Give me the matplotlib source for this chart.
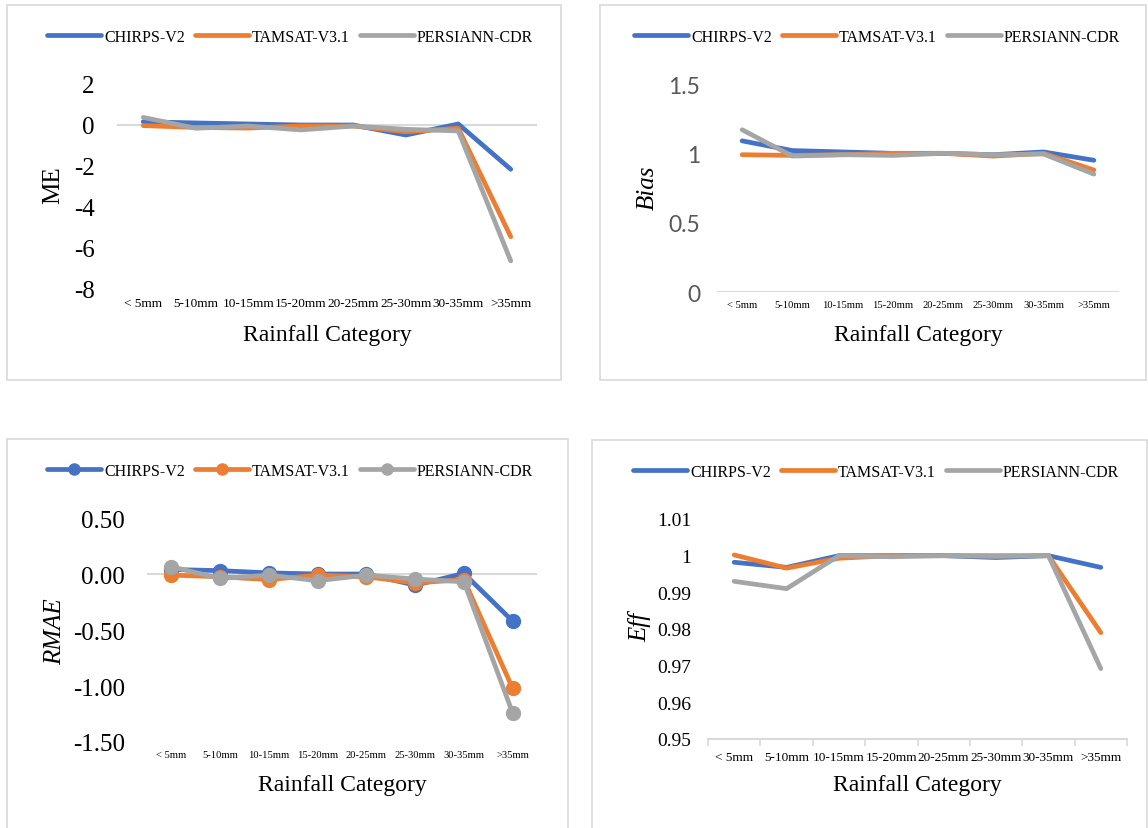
import matplotlib
matplotlib.use('Agg')
import matplotlib.pyplot as plt
from matplotlib.patches import Rectangle

# Рубрики осадков
CATEGORIES = ['< 5mm', '5-10mm', '10-15mm', '15-20mm', '20-25mm', '25-30mm', '30-35mm', '>35mm']
PRODUCTS = ['CHIRPS-V2', 'TAMSAT-V3.1', 'PERSIANN-CDR']

# ME
me_chirps = [0.16, 0.10, 0.05, 0.0, 0.0, -0.49, 0.05, -2.16]
me_tamsat = [-0.03, -0.12, -0.15, -0.05, -0.05, -0.33, -0.16, -5.45]
me_persiann = [0.37, -0.16, -0.05, -0.24, -0.05, -0.21, -0.29, -6.63]

# Bias
bias_chirps = [1.09, 1.02, 1.01, 1.0, 1.0, 0.99, 1.01, 0.95]
bias_tamsat = [0.99, 0.985, 0.99, 1.0, 1.0, 0.98, 1.0, 0.88]
bias_persiann = [1.17, 0.98, 0.99, 0.985, 1.0, 0.99, 0.995, 0.85]

# RMAE
rmae_chirps = [0.04, 0.03, 0.01, 0.0, 0.0, -0.10, 0.005, -0.42]
rmae_tamsat = [-0.01, -0.025, -0.05, -0.01, -0.025, -0.08, -0.05, -1.02]
rmae_persiann = [0.065, -0.04, -0.01, -0.06, -0.01, -0.045, -0.07, -1.24]

# Eff
eff_chirps = [0.9982, 0.9968, 1.0, 1.0, 1.0, 0.9995, 1.0, 0.9968]
eff_tamsat = [1.0002, 0.9966, 0.9993, 1.0, 1.0, 1.0, 1.0, 0.979]
eff_persiann = [0.993, 0.991, 1.0, 0.9997, 1.0, 0.9998, 1.0, 0.9692]

COLORS = ['#4472C4', '#ED7D31', '#A5A5A5']
AXIS_GRAY = '#D9D9D9'
SERIF = 'Liberation Serif'

W, H = 1148, 829
fig = plt.figure(figsize=(W / 100, H / 100), dpi=100)


def px_axes(x0, x1, ytop, ybot):
    return fig.add_axes([x0 / W, 1 - ybot / H, (x1 - x0) / W, (ybot - ytop) / H])


def frame(x0, y0, x1, y1):
    fig.add_artist(Rectangle((x0 / W, 1 - y1 / H), (x1 - x0) / W, (y1 - y0) / H,
                             transform=fig.transFigure, fill=False,
                             edgecolor=AXIS_GRAY, linewidth=1.2))


def legend_px_to_fig(p):
    return (p[0] / W, 1 - p[1] / H)


def panel(ax, series, ylim, yticks, ytick_fmt, ylabel, ylabel_px, legend_px,
          xlabel_py, cat_size, ytick_size, ytick_pad, ytick_font=SERIF,
          ytick_color='black', italic=True, markers=False, bottom_axis=False,
          ylabel_size=18):
    x = list(range(len(CATEGORIES)))
    handles = []
    for vals, color, name in zip(series, COLORS, PRODUCTS):
        h, = ax.plot(x, vals, color=color, lw=3.4, label=name,
                     marker='o' if markers else None, markersize=10,
                     solid_capstyle='round', solid_joinstyle='round')
        handles.append(h)
    ax.set_xlim(-0.5, len(CATEGORIES) - 0.5)
    ax.set_ylim(*ylim)
    ax.set_yticks(yticks)
    ax.set_yticklabels([ytick_fmt.format(v) for v in yticks])
    for s in ax.spines.values():
        s.set_visible(False)
    if bottom_axis:
        # ось по низу с засечками между рубриками
        ax.axhline(ylim[0], color=AXIS_GRAY, lw=1.5, zorder=0, clip_on=False)
        ax.set_xticks([i - 0.5 for i in range(len(CATEGORIES) + 1)], minor=False)
        ax.set_xticklabels([''] * (len(CATEGORIES) + 1))
        ax.set_xticks(x, minor=True)
        ax.set_xticklabels(CATEGORIES, minor=True)
        ax.tick_params(axis='x', which='major', length=5, color=AXIS_GRAY, width=1.2)
        ax.tick_params(axis='x', which='minor', length=0, pad=9)
    else:
        ax.axhline(0, color=AXIS_GRAY, lw=1.5, zorder=0)
        ax.set_xticks(x)
        ax.set_xticklabels(CATEGORIES)
        ax.tick_params(axis='x', length=0, pad=6)
    for lab in ax.get_xticklabels(minor=bottom_axis):
        lab.set_fontfamily(SERIF)
        lab.set_fontsize(cat_size)
    ax.tick_params(axis='y', length=0, pad=ytick_pad)
    for lab in ax.get_yticklabels():
        lab.set_fontfamily(ytick_font)
        lab.set_fontsize(ytick_size)
        lab.set_color(ytick_color)

    bb = ax.get_position()

    def to_ax(px, py):
        fx, fy = px / W, 1 - py / H
        return (fx - bb.x0) / bb.width, (fy - bb.y0) / bb.height

    ax.set_ylabel(ylabel, fontfamily=SERIF, fontsize=ylabel_size,
                  fontstyle='italic' if italic else 'normal')
    ax.yaxis.label.set_va('center')
    ax.yaxis.set_label_coords(*to_ax(*ylabel_px))
    ax.set_xlabel('Rainfall Category', fontfamily=SERIF, fontsize=17)
    ax.xaxis.label.set_va('center')
    cx = (bb.x0 + bb.width / 2) * W
    ax.xaxis.set_label_coords(*to_ax(cx, xlabel_py))

    ax.legend(handles=handles, loc='center', ncol=3, frameon=False,
              bbox_to_anchor=legend_px_to_fig(legend_px), bbox_transform=fig.transFigure,
              prop={'family': SERIF, 'size': 11.5}, handlelength=3.4,
              handletextpad=0.2, columnspacing=0.6, markerscale=0.8)


# Рамки панелей
frame(7, 6, 561, 381)
frame(600, 6, 1146, 381)
frame(7, 440, 568, 840)
frame(592, 441, 1147, 840)

# ME
ax1 = px_axes(117, 537, 85, 290)
panel(ax1, [me_chirps, me_tamsat, me_persiann], (-8, 2), [-8, -6, -4, -2, 0, 2], '{:g}',
      'ME', (53, 185), (290, 38), 336, cat_size=9.5, ytick_size=18, ytick_pad=16,
      italic=False)

# Bias
ax2 = px_axes(717, 1119, 85, 293)
panel(ax2, [bias_chirps, bias_tamsat, bias_persiann], (0, 1.5), [0, 0.5, 1, 1.5], '{:g}',
      'Bias', (648, 188), (877, 38), 336, cat_size=7.6, ytick_size=16.5, ytick_pad=12,
      ytick_font='Lato', ytick_color='#595959')

# RMAE
ax3 = px_axes(147, 537, 519, 743)
panel(ax3, [rmae_chirps, rmae_tamsat, rmae_persiann], (-1.5, 0.5), [-1.5, -1.0, -0.5, 0.0, 0.5],
      '{:.2f}', 'RMAE', (55, 632), (290, 472), 786, cat_size=7.6, ytick_size=18,
      ytick_pad=16, markers=True)

# Eff
ax4 = px_axes(708, 1127, 520, 740)
panel(ax4, [eff_chirps, eff_tamsat, eff_persiann], (0.95, 1.01),
      [0.95, 0.96, 0.97, 0.98, 0.99, 1.0, 1.01], '{:g}', 'Eff', (640, 627), (876, 473), 786,
      cat_size=9.5, ytick_size=14, ytick_pad=12, bottom_axis=True)

fig.savefig('out.png', dpi=100)
